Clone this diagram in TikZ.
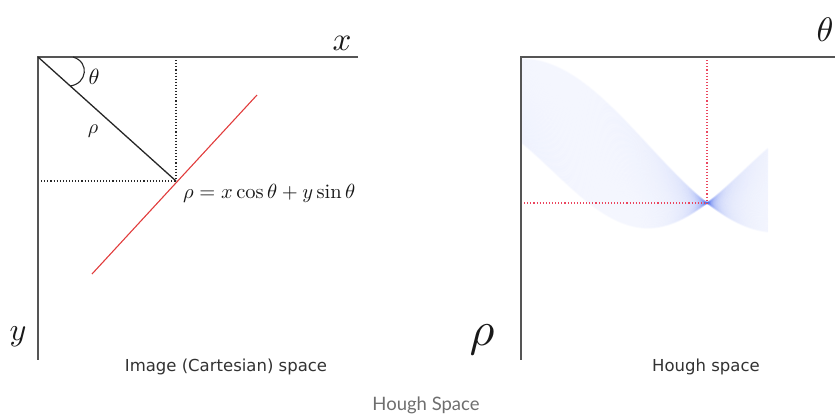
\documentclass[tikz,border=0pt]{standalone}
\usepackage{fontspec}
\newfontfamily\capfont{DejaVu Sans}
\newfontfamily\subfont{Lato}
\definecolor{axisgray}{RGB}{85,85,85}
\definecolor{hblue}{RGB}{60,95,235}
\definecolor{lred}{RGB}{225,60,60}
\definecolor{dred}{RGB}{235,70,95}
\definecolor{capgray}{RGB}{50,50,50}
\definecolor{subgray}{RGB}{110,110,110}
\begin{document}
\begin{tikzpicture}[x=1pt,y=-1pt,
  axis/.style={draw=axisgray,line width=1.6pt},
  helper/.style={draw=black!85,dotted,line width=1.1pt},
  rhelper/.style={draw=dred,dotted,line width=1.1pt},
  mlab/.style={inner sep=0pt,text=black!90},
  captext/.style={inner sep=0pt,text=capgray,font=\capfont\fontsize{16.5}{18}\selectfont},
  band/.style={draw=hblue,line width=1.8pt,opacity=0.024}]
\useasboundingbox (0,0) rectangle (835,416);
\clip (0,0) rectangle (835,416);
% ---------- left panel ----------
\coordinate (O1) at (38,57);
\coordinate (X1) at (358,57);
\coordinate (Y1) at (38,360);
\coordinate (P) at (176,181);
\coordinate (Px) at (176,57);
\coordinate (Py) at (38,181);
\coordinate (R1) at (257,95);
\coordinate (R2) at (92,274);
\coordinate (A1) at (73,57);
\coordinate (A2) at (70,86);
\draw[helper] (Px) -- (P);
\draw[helper] (Py) -- (P);
\draw[axis] (X1) -- (O1) -- (Y1);
\draw[black!85,line width=1.3pt] (O1) -- (P);
\draw[black!85,line width=1.1pt] (A1) .. controls (90,62) and (87,84) .. (A2);
\draw[lred,line width=1.1pt] (R1) -- (R2);
\node[mlab] (xl) at (342,43) {\scalebox{3.3}{$x$}};
\node[mlab] (yl) at (18,337) {\scalebox{3.2}{$y$}};
\node[mlab] (thl) at (94,77) {\scalebox{2.2}{$\theta$}};
\node[mlab] (rhl) at (93,131) {\scalebox{2}{$\rho$}};
\node[mlab,anchor=west] (eq) at (183,193) {\scalebox{2.05}{$\rho = x\cos\theta + y\sin\theta$}};
\node[captext] (c1) at (226,367) {Image (Cartesian) space};
% ---------- right panel ----------
\coordinate (O2) at (521,57);
\coordinate (X2) at (835,57);
\coordinate (Y2) at (521,360);
\coordinate (C) at (707,203);
\coordinate (Cx) at (707,57);
\coordinate (Cy) at (521,203);
\foreach \t in {0,0.00833,...,1.001}{
  \draw[band] plot[domain=522:768,samples=80,smooth]
    (\x,{(1-\t)*(145.6-86.6*cos(0.7105*(\x-522)))+\t*(170.9+57.1*cos(0.945*(\x-648)))});
}
\draw[rhelper] (Cx) -- (C);
\draw[rhelper] (Cy) -- (C);
\draw[axis] (X2) -- (O2) -- (Y2);
\node[mlab] (tl) at (825,30) {\scalebox{3.4}{$\theta$}};
\node[mlab] (rl) at (482,340) {\scalebox{4.8}{$\rho$}};
\node[captext] (c2) at (706,367) {Hough space};
% ---------- subtitle ----------
\node[inner sep=0pt,text=subgray,font=\subfont\fontsize{18.5}{20}\selectfont] (sub) at (426,405) {Hough Space};
\end{tikzpicture}
\end{document}
